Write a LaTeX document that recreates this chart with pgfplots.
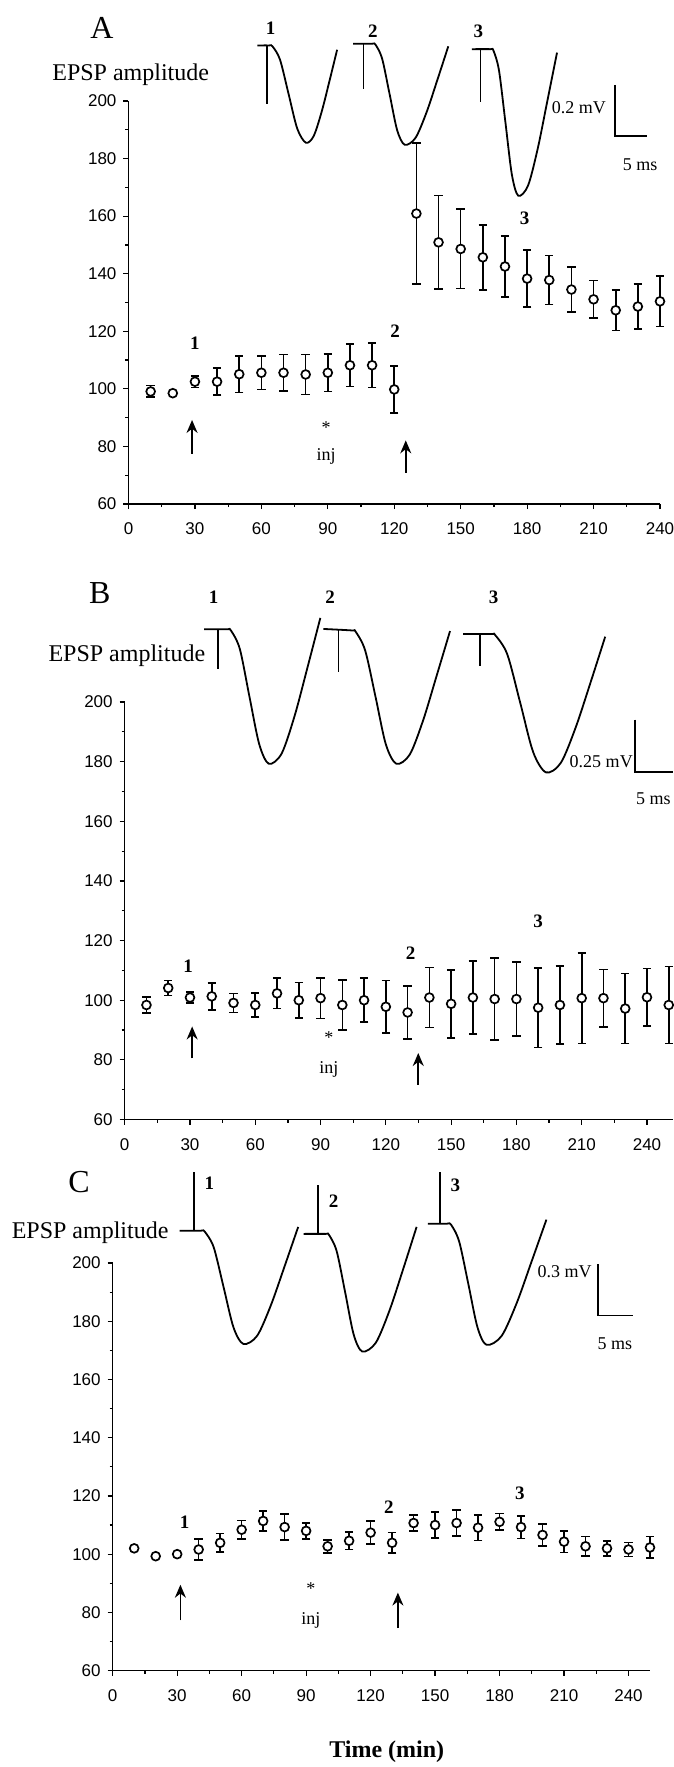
\documentclass[border=0pt]{standalone}
\usepackage{fontspec}
\setmainfont{Liberation Serif}
\newfontfamily\ticksf{Liberation Sans}
\usepackage{pgfplots}
\usepackage{pgfplotstable}
\pgfplotsset{compat=1.18}
\usetikzlibrary{arrows.meta}

% 1 px of the reference = 0.5pt
\pgfplotstableread{
x y e
10 99.1 2
20 98.5 0
30 102.5 2
40 102.5 4.7
50 105.1 6.3
60 105.6 5.8
70 105.6 6.4
80 105.0 7.0
90 105.6 6.5
100 108.2 7.4
110 108.2 7.7
120 99.8 8.1
130 160.9 24.5
140 150.9 16.3
150 148.6 13.8
160 145.7 11.3
170 142.5 10.6
180 138.3 9.9
190 137.8 8.5
200 134.5 7.8
210 131.1 6.5
220 127.3 7.0
230 128.6 7.9
240 130.4 8.8
}\dataA

\pgfplotstableread{
x y e
10 98.4 2.6
20 104.1 2.5
30 100.9 1.9
40 101.3 4.5
50 99.1 3.2
60 98.4 4.0
70 102.3 5.1
80 100.0 6.0
90 100.7 6.8
100 98.4 8.3
110 100.0 7.4
120 97.8 8.8
130 95.9 8.9
140 100.9 10.1
150 98.8 11.4
160 100.9 12.3
170 100.4 13.8
180 100.4 12.4
190 97.5 13.3
200 98.4 13.1
210 100.7 15.2
220 100.7 9.6
230 97.2 11.7
240 101.0 9.6
250 98.4 12.9
}\dataB

\pgfplotstableread{
x y e
10 102.0 1
20 99.3 0
30 100.0 0
40 101.6 3.6
50 103.9 3.2
60 108.4 3.2
70 111.4 3.4
80 109.3 4.4
90 108.0 2.8
100 102.7 2.2
110 104.6 3.0
120 107.4 3.9
130 103.9 3.6
140 110.7 2.7
150 110.0 4.5
160 110.7 4.4
170 109.1 4.4
180 111.1 2.9
190 109.3 3.9
200 106.6 3.7
210 104.3 3.7
220 102.7 3.4
230 102.0 2.6
240 101.6 2.4
250 102.3 3.7
}\dataC

\pgfplotsset{
  epsp/.style={
    scale only axis, anchor=south west, clip=false,
    axis x line*=bottom, axis y line*=left, tick pos=left,
    axis line style={line width=0.75pt},
    tick align=outside, major tick length=2.5pt, minor tick length=1.5pt,
    tick style={black, line width=0.6pt},
    xmin=0, ymin=60, ymax=200,
    xtick={0,30,...,240}, minor x tick num=1,
    ytick={60,80,...,200}, minor y tick num=1,
    /pgf/number format/assume math mode=true,
    ticklabel style={font=\ticksf\fontsize{8.5}{10}\selectfont},
    xticklabel style={yshift=-3.5pt},
  },
  pts/.style={black, only marks, mark=*, mark size=2.2pt,
    mark options={fill=white, draw=black, line width=0.85pt},
    error bars/.cd, y dir=both, y explicit,
    error bar style={line width=0.8pt},
    error mark options={rotate=90, mark size=2.1pt, line width=0.8pt}},
  trace/.style={black, line width=0.9pt, smooth, mark=none},
  art/.style={black, line width=0.8pt, mark=none},
}
\newcommand{\lab}{\bfseries\fontsize{9.5}{10}\selectfont}
\newcommand{\txt}{\fontsize{9}{10}\selectfont}
\newcommand{\epsp}{\fontsize{12}{13}\selectfont}
\newcommand{\panel}{\fontsize{16}{17}\selectfont}
\tikzset{up/.style={line width=0.8pt, -{Stealth[length=6.5pt,width=5.5pt]}}}

\begin{document}
\begin{tikzpicture}
\useasboundingbox (0,0) rectangle (337pt,-883.5pt);

% ---------------- A ----------------
\begin{axis}[epsp, at={(64.25pt,-252pt)}, width=265.75pt, height=201.5pt, xmax=240]
\addplot[trace] coordinates {(58.2,219.3) (63.5,219.3) (65,219.0) (68.4,214.4) (72.3,202.4) (76.2,190.4) (80.1,185.5) (83.6,187.8) (87.2,196.2) (90.7,206.8) (94.2,217.8)};
\addplot[art] coordinates {(62.6,219.3) (62.6,199.1)};
\addplot[trace] coordinates {(101.4,219.9) (110,219.9) (111.5,219.6) (114.5,214.8) (117.9,202.4) (121.3,189.9) (124.7,184.8) (129.6,187.2) (134.6,196.1) (139.5,207.4) (144.4,219.0)};
\addplot[art] coordinates {(106.2,219.9) (106.2,204.1)};
\addplot[trace] coordinates {(155.1,218.0) (163.4,218.0) (164.8,217.5) (167.3,210.6) (170.2,192.6) (173.1,174.5) (176.0,167.1) (180.4,170.6) (184.8,183.5) (189.1,199.9) (193.5,216.8)};
\addplot[art] coordinates {(159,218.0) (159,199.8)};
\node[font=\lab] at (axis cs:64.2,225.2) {1};
\node[font=\lab] at (axis cs:110.3,224.2) {2};
\node[font=\lab] at (axis cs:158,224.2) {3};
\draw[line width=0.8pt] (axis cs:219.7,205.6) -- (axis cs:219.7,187.8) -- (axis cs:234.3,187.8);
\node[font=\txt, anchor=east, inner sep=1pt] at (axis cs:216.6,197.8) {0.2 mV};
\node[font=\txt] at (axis cs:231,177.8) {5 ms};
\node[font=\panel] at (axis cs:-12,225.5) {A};
\node[font=\epsp] at (axis cs:1,209) {EPSP amplitude};

\addplot[pts] table[x=x, y=y, y error=e] {\dataA};

\node[font=\lab] at (axis cs:30,115.7) {1};
\node[font=\lab] at (axis cs:120.4,120.2) {2};
\node[font=\lab] at (axis cs:178.9,159.1) {3};
\draw[up] (axis cs:28.7,77.4) -- (axis cs:28.7,89.2);
\draw[up] (axis cs:125.2,70.9) -- (axis cs:125.2,82.1);
\node[font=\txt] at (axis cs:89.2,86.7) {*};
\node[font=\txt] at (axis cs:89.2,76.4) {inj};
\end{axis}

% ---------------- B ----------------
\begin{axis}[epsp, at={(62.35pt,-559.75pt)}, width=274.2pt, height=208.75pt, xmax=252]
\addplot[trace] coordinates {(36.5,224.4) (47,224.4) (48.8,224.0) (52.9,217.8) (57.3,201.9) (61.8,185.9) (66.2,179.3) (72.1,182.7) (78.1,195.4) (84.0,211.6) (89.9,228.2)};
\addplot[art] coordinates {(42.8,224.4) (42.8,211.1)};
\addplot[trace] coordinates {(91.3,224.5) (104.3,224.0) (106.1,223.6) (110.5,217.3) (115.3,201.6) (120.0,185.8) (124.8,179.3) (131.0,182.4) (137.2,194.0) (143.3,208.7) (149.5,223.8)};
\addplot[art] coordinates {(98.2,224.3) (98.2,210.1)};
\addplot[trace] coordinates {(155.5,222.8) (168.4,222.8) (170.3,222.4) (175.8,216.0) (181.8,199.6) (187.7,183.2) (193.6,176.4) (200.4,179.6) (207.2,191.4) (214.0,206.4) (220.8,221.9)};
\addplot[art] coordinates {(163.4,222.8) (163.4,212)};
\node[font=\lab] at (axis cs:40.9,235.1) {1};
\node[font=\lab] at (axis cs:94.4,235.1) {2};
\node[font=\lab] at (axis cs:169.5,235.1) {3};
\draw[line width=0.8pt] (axis cs:234.6,194.1) -- (axis cs:234.6,176.6) -- (axis cs:252,176.6);
\node[font=\txt, anchor=east, inner sep=0.5pt] at (axis cs:234.1,180) {0.25 mV};
\node[font=\txt] at (axis cs:242.9,167.6) {5 ms};
\node[font=\panel] at (axis cs:-11.5,236.4) {B};
\node[font=\epsp] at (axis cs:1,215.6) {EPSP amplitude};

\addplot[pts] table[x=x, y=y, y error=e] {\dataB};

\node[font=\lab] at (axis cs:29.2,111.4) {1};
\node[font=\lab] at (axis cs:131.4,115.8) {2};
\node[font=\lab] at (axis cs:190,126.3) {3};
\draw[up] (axis cs:31,80.5) -- (axis cs:31,91.2);
\draw[up] (axis cs:134.9,71.6) -- (axis cs:134.9,82.3);
\node[font=\txt] at (axis cs:93.8,87.4) {*};
\node[font=\txt] at (axis cs:93.8,76.7) {inj};
\end{axis}

% ---------------- C ----------------
\begin{axis}[epsp, at={(56.35pt,-835.3pt)}, width=268.65pt, height=203.8pt, xmax=250]
\addplot[trace] coordinates {(31.1,211.1) (41,211.1) (42.8,210.8) (47.0,205.4) (51.6,191.7) (56.2,177.9) (60.8,172.2) (67.2,175.0) (73.6,185.5) (79.9,198.7) (86.3,212.4)};
\addplot[art] coordinates {(37.8,211.1) (37.8,231.4)};
\addplot[trace] coordinates {(88.8,210.0) (99,210.0) (100.6,209.7) (104.2,204.1) (108.2,189.8) (112.1,175.5) (116.1,169.6) (122.4,172.6) (128.8,183.7) (135.1,197.8) (141.4,212.4)};
\addplot[art] coordinates {(95.4,210.0) (95.4,226.9)};
\addplot[trace] coordinates {(146.6,213.5) (155.5,213.5) (157.4,213.2) (161.2,207.4) (165.5,192.7) (169.7,178.0) (173.9,171.9) (180.9,174.9) (187.9,186.1) (194.8,200.3) (201.8,214.9)};
\addplot[art] coordinates {(152.4,213.5) (152.4,231.4)};
\node[font=\lab] at (axis cs:45,227.5) {1};
\node[font=\lab] at (axis cs:102.8,221.2) {2};
\node[font=\lab] at (axis cs:159.4,226.6) {3};
\draw[line width=0.8pt] (axis cs:225.7,199.6) -- (axis cs:225.7,182) -- (axis cs:242.2,182);
\node[font=\txt, anchor=east, inner sep=1pt] at (axis cs:223.9,197.2) {0.3 mV};
\node[font=\txt] at (axis cs:233.7,172.3) {5 ms};
\node[font=\panel] at (axis cs:-15.6,227.9) {C};
\node[font=\epsp] at (axis cs:-10.5,210.3) {EPSP amplitude};

\addplot[pts] table[x=x, y=y, y error=e] {\dataC};

\node[font=\lab] at (axis cs:33.5,111.1) {1};
\node[font=\lab] at (axis cs:128.5,116.2) {2};
\node[font=\lab] at (axis cs:189.4,120.8) {3};
\draw[up] (axis cs:31.5,77.3) -- (axis cs:31.5,89.5);
\draw[up] (axis cs:132.7,74.6) -- (axis cs:132.7,86.8);
\node[font=\txt] at (axis cs:92.2,88.1) {*};
\node[font=\txt] at (axis cs:92.2,77.3) {inj};
\node[font=\bfseries\fontsize{12}{13}\selectfont] at (axis cs:127.5,32) {Time (min)};
\end{axis}
\end{tikzpicture}
\end{document}
